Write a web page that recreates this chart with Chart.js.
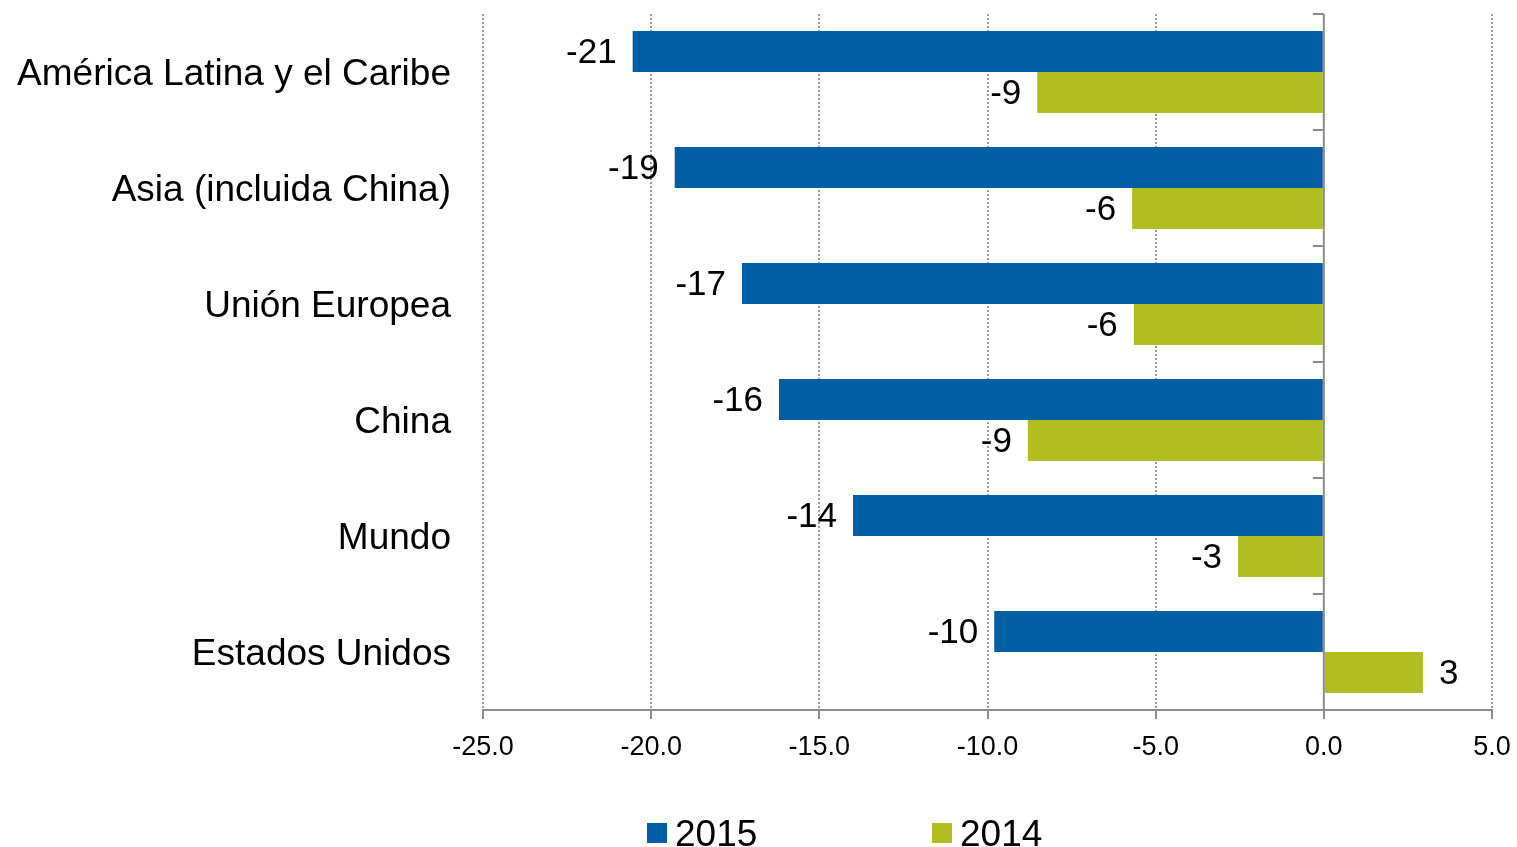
<!DOCTYPE html>
<html>
<head>
<meta charset="utf-8">
<script src="https://cdn.jsdelivr.net/npm/chart.js@4.4.0/dist/chart.umd.min.js"></script>
<style>
  html, body { margin: 0; padding: 0; background: #fff; }
  #wrap { width: 1517px; height: 847px; position: relative; }
</style>
</head>
<body>
<div id="wrap"><canvas id="chart"></canvas></div>
<script>
// data
const categories = ["América Latina y el Caribe", "Asia (incluida China)", "Unión Europea", "China", "Mundo", "Estados Unidos"];
const values2015 = [-20.55, -19.3, -17.3, -16.2, -14.0, -9.8];
const values2014 = [-8.52, -5.7, -5.65, -8.8, -2.55, 2.95];
const seriesLabels = ["2015", "2014"];
const xTicks = [-25, -20, -15, -10, -5, 0, 5];

const FONT = '"Liberation Sans", Arial, sans-serif';
const BLUE = "#005ea4";
const GREEN = "#b0be22";
const AXIS = "#8c8c8c";

// zero axis with category ticks, value labels and the legend
const extrasPlugin = {
  id: "extras",
  afterDatasetsDraw(chart) {
    const { ctx, chartArea } = chart;
    const x = chart.scales.x;
    const y = chart.scales.y;
    const x0 = x.getPixelForValue(0);
    const half = (y.getPixelForValue(1) - y.getPixelForValue(0)) / 2;

    ctx.save();
    ctx.strokeStyle = AXIS;
    ctx.lineWidth = 2;
    ctx.beginPath();
    ctx.moveTo(x0, chartArea.top);
    ctx.lineTo(x0, chartArea.bottom);
    for (let i = 0; i <= categories.length; i++) {
      const yy = y.getPixelForValue(0) - half + i * 2 * half;
      ctx.moveTo(x0 - 11, yy);
      ctx.lineTo(x0, yy);
    }
    ctx.stroke();

    // value labels
    ctx.fillStyle = "#000";
    ctx.font = "35px " + FONT;
    ctx.textBaseline = "middle";
    chart.data.datasets.forEach((ds, di) => {
      const meta = chart.getDatasetMeta(di);
      meta.data.forEach((bar, i) => {
        const v = ds.data[i];
        const txt = String(Math.round(v));
        if (v < 0) {
          ctx.textAlign = "right";
          ctx.fillText(txt, bar.x - 16, bar.y + 2);
        } else {
          ctx.textAlign = "left";
          ctx.fillText(txt, bar.x + 16, bar.y + 2);
        }
      });
    });

    // legend
    const legendLeft = 647;
    const itemStep = 285;
    ctx.font = "37px " + FONT;
    ctx.textAlign = "left";
    ctx.textBaseline = "alphabetic";
    chart.data.datasets.forEach((ds, di) => {
      const lx = legendLeft + di * itemStep;
      ctx.fillStyle = ds.backgroundColor;
      ctx.fillRect(lx, 823, 20, 20);
      ctx.fillStyle = "#000";
      ctx.fillText(ds.label, lx + 28, 846);
    });
    ctx.restore();
  },
};

const ctx = document.getElementById("chart");
new Chart(ctx, {
  type: "bar",
  data: {
    labels: categories,
    datasets: [
      {
        label: seriesLabels[0],
        data: values2015,
        backgroundColor: BLUE,
        categoryPercentage: 0.707,
        barPercentage: 1.0,
      },
      {
        label: seriesLabels[1],
        data: values2014,
        backgroundColor: GREEN,
        categoryPercentage: 0.707,
        barPercentage: 1.0,
      },
    ],
  },
  options: {
    indexAxis: "y",
    responsive: true,
    maintainAspectRatio: false,
    animation: false,
    layout: {
      padding: { top: 14, right: 25, bottom: 0, left: 0 },
    },
    plugins: {
      legend: { display: false },
      tooltip: { enabled: false },
    },
    scales: {
      x: {
        type: "linear",
        min: -25,
        max: 5,
        afterBuildTicks: (scale) => {
          scale.ticks = xTicks.map((v) => ({ value: v }));
        },
        afterFit: (scale) => {
          scale.height = 137;
          scale.paddingLeft = 0;
          scale.paddingRight = 0;
        },
        ticks: {
          color: "#000",
          font: { family: FONT, size: 27 },
          padding: 12,
          maxRotation: 0,
          callback: (v) => Number(v).toFixed(1),
        },
        grid: {
          color: (c) => (c.tick && c.tick.value === 0 ? "rgba(0,0,0,0)" : "#9a9a9a"),
          lineWidth: 2,
          tickLength: 9,
          tickColor: AXIS,
          tickWidth: 2,
        },
        border: {
          display: true,
          color: AXIS,
          width: 2,
          dash: [2, 2],
        },
      },
      y: {
        afterFit: (scale) => {
          scale.width = 483;
          scale.paddingTop = 0;
          scale.paddingBottom = 0;
        },
        ticks: {
          color: "#000",
          font: { family: FONT, size: 37 },
          padding: 24,
          labelOffset: 3,
        },
        grid: { display: false },
        border: { display: false },
      },
    },
  },
  plugins: [extrasPlugin],
});
</script>
</body>
</html>
